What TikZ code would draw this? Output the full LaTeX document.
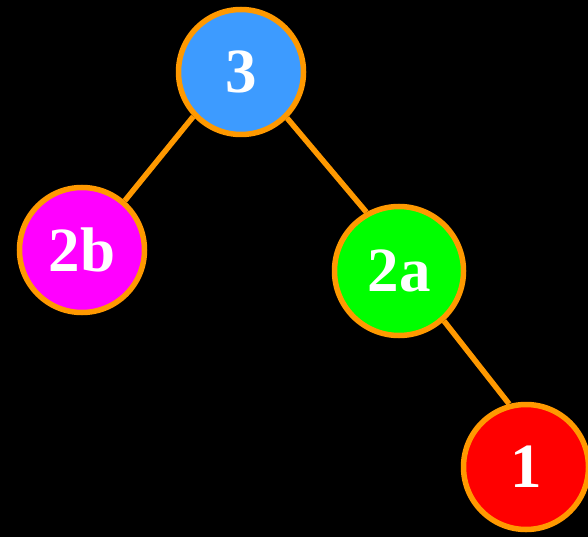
\documentclass[tikz,border=0pt]{standalone}
\usepackage{fontspec}
\setmainfont{Liberation Serif}
\definecolor{edgeorange}{HTML}{FF9900}
\definecolor{nodeblue}{HTML}{3D9BFF}
\definecolor{nodegreen}{HTML}{00FF00}
\definecolor{nodemagenta}{HTML}{FF00FF}
\definecolor{nodered}{HTML}{FF0000}
\begin{document}
\begin{tikzpicture}[x=1pt,y=-1pt,
  treenode/.style={circle,draw=edgeorange,line width=5.5pt,minimum size=125pt,inner sep=0pt,
    text=white,font=\fontsize{63}{63}\selectfont\bfseries},
  treeedge/.style={draw=edgeorange,line width=5.5pt}]
\fill[black] (0,0) rectangle (588,537);
\useasboundingbox (0,0) rectangle (588,537);
\node[treenode,fill=nodeblue] (n3) at (241,72) {3};
\node[treenode,fill=nodemagenta] (n2b) at (82,250) {2b};
\node[treenode,fill=nodegreen,minimum size=129pt] (n2a) at (399,271) {2a};
\node[treenode,fill=nodered] (n1) at (526,467) {1};
\draw[treeedge] (n3.-137) -- (n2b.49);
\draw[treeedge] (n3.-45.6) -- (n2a.119);
\draw[treeedge] (n2a.-48.7) -- (n1.105);
\end{tikzpicture}
\end{document}
